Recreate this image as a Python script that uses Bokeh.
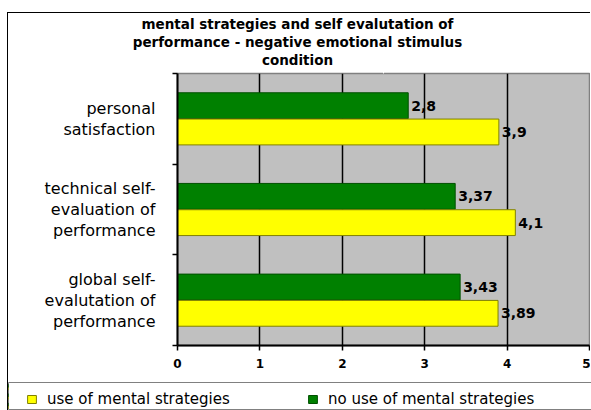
from bokeh.plotting import figure
from bokeh.models import (ColumnDataSource, LabelSet, Legend, LegendItem,
                          FixedTicker, Range1d, Title, LinearAxis)
from bokeh.embed import file_html
from bokeh.resources import INLINE
from bokeh.core.properties import value

# ---- data ----
categories = ["personal\nsatisfaction",
              "technical self-\nevaluation of\nperformance",
              "global self-\nevalutation of\nperformance"]
use_strategies = [3.9, 4.1, 3.89]
no_use_strategies = [2.8, 3.37, 3.43]
use_labels = ["3,9", "4,1", "3,89"]
no_use_labels = ["2,8", "3,37", "3,43"]
x_ticks = [0, 1, 2, 3, 4, 5]
title_lines = ["mental strategies and self evalutation of",
               "performance - negative emotional stimulus",
               "condition"]
series_names = ["use of mental strategies", "no use of mental strategies"]

YELLOW, YELLOW_EDGE = "#FFFF00", "#808000"
GREEN, GREEN_EDGE = "#008000", "#005000"

n = len(categories)
centers = [n - i - 0.5 for i in range(n)]
bar_h = 0.285
off = 0.145

src_use = ColumnDataSource(dict(y=[c - off for c in centers], right=use_strategies, label=use_labels))
src_no = ColumnDataSource(dict(y=[c + off for c in centers], right=no_use_strategies, label=no_use_labels))

# ---------------- main chart ----------------
p = figure(width=583, height=370, output_backend="svg", toolbar_location=None,
           x_range=Range1d(0, 5), y_range=Range1d(0, n),
           min_border_left=169, min_border_right=2, min_border_top=60, min_border_bottom=38)
p.margin = (12, 0, 0, 7)
p.styles = {"border-left": "1px solid black", "border-top": "1px solid black"}

p.background_fill_color = "#C0C0C0"
p.outline_line_color = "#808080"
p.outline_line_width = 1.5

p.hbar(y="y", right="right", left=0, height=bar_h, source=src_no,
       fill_color=GREEN, line_color=GREEN_EDGE, line_width=1)
p.hbar(y="y", right="right", left=0, height=bar_h, source=src_use,
       fill_color=YELLOW, line_color=YELLOW_EDGE, line_width=1)

# grid
p.ygrid.visible = False
p.xgrid.ticker = FixedTicker(ticks=x_ticks)
p.xgrid.grid_line_color = "black"
p.xgrid.grid_line_width = 1.5

# x axis
p.xaxis.ticker = FixedTicker(ticks=x_ticks)
p.xaxis.axis_line_color = "black"
p.xaxis.axis_line_width = 2
p.xaxis.major_tick_out = 5
p.xaxis.major_tick_in = 0
p.xaxis.major_tick_line_width = 1.5
p.xaxis.minor_tick_line_color = None
p.xaxis.major_label_text_font = "DejaVu Sans"
p.xaxis.major_label_text_font_style = "bold"
p.xaxis.major_label_text_font_size = "12px"
p.xaxis.major_label_text_color = "black"
p.xaxis.major_label_standoff = 8

# y axis: ticks at band edges, category labels at band centres
p.yaxis.ticker = FixedTicker(ticks=centers, minor_ticks=list(range(n + 1)))
p.yaxis.major_label_overrides = {c: t for c, t in zip(centers, categories)}
p.yaxis.axis_line_color = "black"
p.yaxis.axis_line_width = 2
p.yaxis.major_tick_out = 0
p.yaxis.major_tick_in = 0
p.yaxis.minor_tick_out = 5
p.yaxis.minor_tick_in = 0
p.yaxis.minor_tick_line_color = "black"
p.yaxis.minor_tick_line_width = 1.5
p.yaxis.major_label_standoff = 17
p.yaxis.major_label_text_font = "DejaVu Sans"
p.yaxis.major_label_text_font_size = "16px"
p.yaxis.major_label_text_line_height = 1.1
p.yaxis.major_label_text_color = "black"

# value labels
for src in (src_no, src_use):
    p.add_layout(LabelSet(x="right", y="y", text="label", source=src, x_offset=3,
                          text_baseline="middle", text_align="left",
                          text_font=value("DejaVu Sans"), text_font_style="bold",
                          text_font_size="14px", text_color="black"))

# small empty gap between the title and the plot area (blank spacer axis)
gap = LinearAxis(ticker=FixedTicker(ticks=[2.5]), axis_line_color=None,
                 major_tick_out=6, major_tick_in=0, minor_tick_out=0, minor_tick_in=0,
                 major_tick_line_color="white", minor_tick_line_color=None,
                 major_label_standoff=0, major_label_text_font_size="1px",
                 major_label_text_color=None)
p.add_layout(gap, "above")

# title: one Title per line, centred on the whole chart (not on the frame)
title_em = [23.106, 24.406, 5.271]
t_size = 13.5
for line, em in reversed(list(zip(title_lines, title_em))):
    p.add_layout(Title(text=line, align="left", offset=120 - em * t_size / 2,
                       text_font="DejaVu Sans", text_font_style="bold",
                       text_font_size=f"{t_size}px", text_color="black", standoff=0),
                 "above")
p.title.text = ""

# ---------------- legend strip (separate root, so its frame is not aligned) ----------------
pl = figure(width=584, height=28, output_backend="svg", toolbar_location=None,
            x_range=Range1d(10, 11), y_range=Range1d(0, n),
            x_axis_location=None, y_axis_location=None, min_border=0)
pl.margin = (0, 0, 0, 7)
pl.styles = {"border-left": "1px solid black"}
pl.outline_line_color = "#808080"
pl.outline_line_width = 1
pl.grid.visible = False
pl.title.text = ""

ly = pl.hbar(y="y", right="right", left=0, height=bar_h, source=src_use,
             fill_color=YELLOW, line_color=YELLOW_EDGE, line_width=1)
lg = pl.hbar(y="y", right="right", left=0, height=bar_h, source=src_no,
             fill_color=GREEN, line_color=GREEN_EDGE, line_width=1)

legend = Legend(items=[LegendItem(label=series_names[0], renderers=[ly]),
                       LegendItem(label=series_names[1], renderers=[lg])],
                orientation="horizontal", location=(18, 2),
                glyph_width=11, glyph_height=10, label_standoff=10, spacing=20,
                label_width=240, label_height=18, padding=0, margin=0,
                label_text_font="DejaVu Sans", label_text_font_size="15px",
                label_text_color="black",
                border_line_alpha=0, background_fill_alpha=0)
pl.add_layout(legend, "center")

open("out.html", "w").write(file_html([p, pl], INLINE))
